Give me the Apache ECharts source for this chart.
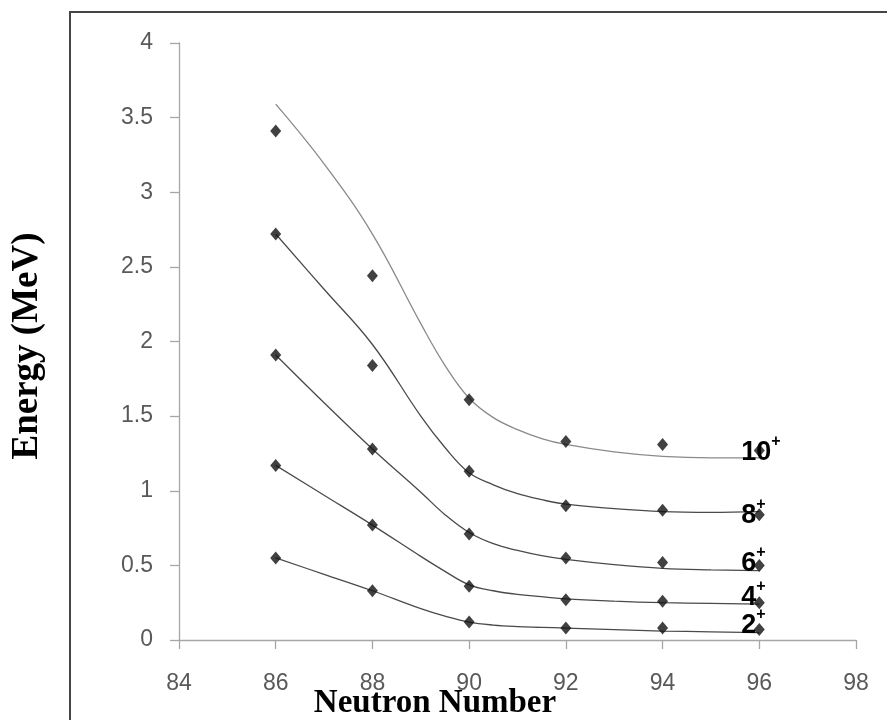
<!DOCTYPE html>
<html>
<head>
<meta charset="utf-8">
<script src="https://cdn.jsdelivr.net/npm/echarts@6/dist/echarts.min.js"></script>
<style>
html,body{margin:0;padding:0;background:#fff;}
#chart{width:887px;height:720px;}
</style>
</head>
<body>
<div id="chart"></div>
<script>
// ---- data ----
const neutronNumbers = [86, 88, 90, 92, 94, 96];
const energy2 = [0.55, 0.33, 0.12, 0.08, 0.08, 0.07];
const energy4 = [1.17, 0.77, 0.36, 0.27, 0.26, 0.25];
const energy6 = [1.91, 1.28, 0.71, 0.55, 0.52, 0.50];
const energy8 = [2.72, 1.84, 1.13, 0.90, 0.87, 0.84];
const energy10 = [3.41, 2.44, 1.61, 1.33, 1.31, 1.27];

// trend curves
const trendX = [86, 87, 88, 89, 89.5, 90, 90.5, 91, 91.5, 92, 93, 94, 95, 96];
const trend2 = [0.55, 0.44, 0.33, 0.21, 0.16, 0.12, 0.10, 0.09, 0.085, 0.08, 0.07, 0.06, 0.055, 0.05];
const trend4 = [1.17, 0.97, 0.77, 0.56, 0.46, 0.37, 0.33, 0.305, 0.29, 0.275, 0.26, 0.25, 0.245, 0.24];
const trend6 = [1.91, 1.59, 1.28, 0.99, 0.84, 0.72, 0.645, 0.60, 0.565, 0.54, 0.505, 0.48, 0.47, 0.465];
const trend8 = [2.72, 2.35, 1.98, 1.50, 1.29, 1.12, 1.04, 0.98, 0.94, 0.91, 0.88, 0.86, 0.855, 0.86];
const trend10 = [3.59, 3.19, 2.72, 2.12, 1.84, 1.62, 1.49, 1.41, 1.35, 1.31, 1.26, 1.23, 1.22, 1.22];

const stateLabels = ['2', '4', '6', '8', '10'];
const xTicks = [84, 86, 88, 90, 92, 94, 96, 98];
const yTicks = [0, 0.5, 1, 1.5, 2, 2.5, 3, 3.5, 4];

const pointSets = [energy2, energy4, energy6, energy8, energy10];
const trendSets = [trend2, trend4, trend6, trend8, trend10];

const chart = echarts.init(document.getElementById('chart'), null, {renderer: 'canvas'});

const axisGray = '#a6a6a6';
const tickFont = "'Liberation Sans', Arial, sans-serif";

const series = [];
trendSets.forEach((t, i) => {
  series.push({
    type: 'line',
    data: trendX.map((x, j) => [x, t[j]]),
    smooth: 0.4,
    showSymbol: false,
    symbol: 'none',
    lineStyle: {color: i === 4 ? '#8a8a8a' : '#4a4a4a', width: 1.3},
    z: 2,
    silent: true
  });
});
pointSets.forEach((p) => {
  series.push({
    type: 'scatter',
    data: neutronNumbers.map((x, j) => [x, p[j]]),
    symbol: 'diamond',
    symbolSize: [11, 13],
    itemStyle: {color: '#111'},
    z: 3
  });
});

chart.setOption({
  animation: false,
  backgroundColor: '#fff',
  grid: {left: 179, right: 31, top: 43, bottom: 80, containLabel: false},
  xAxis: {
    type: 'value', min: xTicks[0], max: xTicks[xTicks.length - 1], interval: 2,
    axisLine: {show: true, onZero: false, lineStyle: {color: axisGray, width: 1.3}},
    axisTick: {show: true, inside: false, length: 9, lineStyle: {color: axisGray, width: 1.3}},
    axisLabel: {color: '#595959', fontSize: 23, fontFamily: tickFont, margin: 32},
    splitLine: {show: false}
  },
  yAxis: {
    type: 'value', min: yTicks[0], max: yTicks[yTicks.length - 1], interval: 0.5,
    axisLine: {show: true, lineStyle: {color: axisGray, width: 1.3}},
    axisTick: {show: true, inside: false, length: 9, lineStyle: {color: axisGray, width: 1.3}},
    axisLabel: {color: '#595959', fontSize: 23, fontFamily: tickFont, margin: 26},
    splitLine: {show: false}
  },
  series: series
});

// measure text widths for superscript placement
const ctx = document.createElement('canvas').getContext('2d');
const numFont = "bold 27px 'Liberation Sans', Arial, sans-serif";
ctx.font = numFont;

const graphics = [
  {type: 'rect', shape: {x: 70, y: 12, width: 900, height: 800}, style: {fill: 'none', stroke: '#444', lineWidth: 2}, z: 0, silent: true},
  {type: 'text', x: 27, y: 346, rotation: Math.PI / 2,
   style: {text: 'Energy (MeV)', font: "bold 37px 'Liberation Serif', 'Times New Roman', serif", fill: '#000', textAlign: 'center', textVerticalAlign: 'middle'}},
  {type: 'text', x: 435, y: 703,
   style: {text: 'Neutron Number', font: "bold 33px 'Liberation Serif', 'Times New Roman', serif", fill: '#000', textAlign: 'center', textVerticalAlign: 'middle'}}
];
const lastIdx = neutronNumbers.length - 1;
const yShift = [-4, -5, -2, 1, 2];
pointSets.forEach((p, i) => {
  const px = chart.convertToPixel({xAxisIndex: 0, yAxisIndex: 0}, [neutronNumbers[lastIdx], p[lastIdx]]);
  const left = px[0] - 18;
  const cy = px[1] + yShift[i];
  const w = ctx.measureText(stateLabels[i]).width;
  graphics.push({type: 'text', x: left, y: cy, z: 10,
    style: {text: stateLabels[i], font: numFont, fill: '#000', textAlign: 'left', textVerticalAlign: 'middle'}});
  graphics.push({type: 'text', x: left + w, y: cy - 11, z: 10,
    style: {text: '+', font: "bold 16px 'Liberation Sans', Arial, sans-serif", fill: '#000', textAlign: 'left', textVerticalAlign: 'middle'}});
});
chart.setOption({graphic: graphics});
</script>
</body>
</html>
